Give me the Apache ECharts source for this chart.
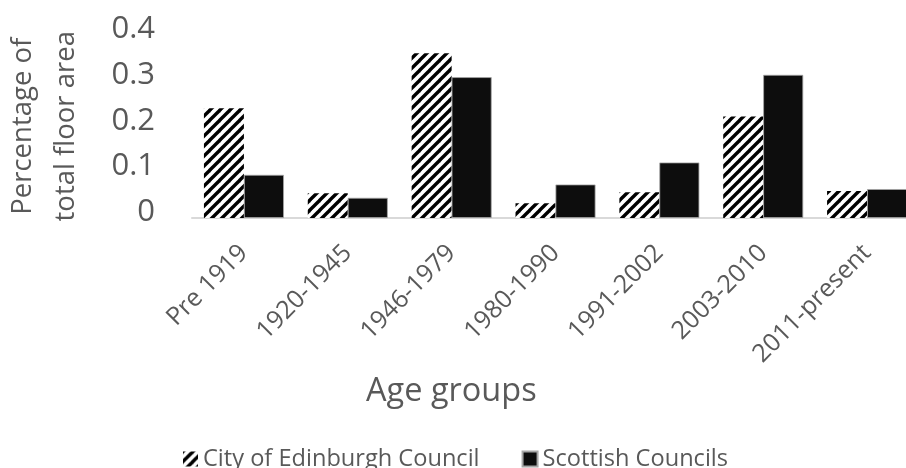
<!DOCTYPE html>
<html>
<head>
<meta charset="utf-8">
<script src="https://cdn.jsdelivr.net/npm/echarts@6/dist/echarts.min.js"></script>
<style>
html,body{margin:0;padding:0;background:#fff;}
#chart{width:906px;height:468px;}
</style>
</head>
<body>
<div id="chart"></div>
<script>
const categories = ['Pre 1919','1920-1945','1946-1979','1980-1990','1991-2002','2003-2010','2011-present'];
const edinburgh = [0.239, 0.054, 0.359, 0.032, 0.056, 0.221, 0.059];
const scottish = [0.094, 0.044, 0.307, 0.073, 0.121, 0.312, 0.063];
const seriesNames = ['City of Edinburgh Council', 'Scottish Councils'];
const yTicks = [0, 0.1, 0.2, 0.3, 0.4];

function hatch() {
  const s = 10;
  const c = document.createElement('canvas');
  c.width = s; c.height = s;
  const g = c.getContext('2d');
  g.fillStyle = '#fff';
  g.fillRect(0, 0, s, s);
  g.strokeStyle = '#000';
  g.lineWidth = 3.4;
  for (let k = -s; k <= s; k += s) {
    g.beginPath();
    g.moveTo(k - 1, s + 1);
    g.lineTo(k + s + 1, -1);
    g.stroke();
  }
  return c;
}

const gray = '#595959';
const font = 'Open Sans';
const chart = echarts.init(document.getElementById('chart'), null, {renderer: 'canvas'});
chart.setOption({
  animation: false,
  backgroundColor: '#fff',
  textStyle: {fontFamily: font},
  title: {
    text: 'Age groups',
    left: 366, top: 375,
    padding: 0,
    textStyle: {fontFamily: font, fontSize: 32.5, fontWeight: 'normal', color: gray}
  },
  legend: {
    left: 183, top: 447, padding: 0,
    itemWidth: 15, itemHeight: 15, itemGap: 42,
    icon: 'rect',
    textStyle: {fontFamily: font, fontSize: 23.6, color: gray},
    data: seriesNames
  },
  grid: {left: 192, right: -13, top: 34.5, bottom: 250, containLabel: false, outerBoundsMode: 'none'},
  xAxis: {
    type: 'category',
    data: categories,
    axisLine: {lineStyle: {color: '#d9d9d9', width: 2}},
    axisTick: {show: false},
    axisLabel: {rotate: 45, margin: 31, fontFamily: font, fontSize: 25, color: gray, interval: 0}
  },
  yAxis: {
    type: 'value',
    min: yTicks[0], max: yTicks[yTicks.length - 1], interval: 0.1,
    name: 'Percentage of\ntotal floor area',
    nameLocation: 'middle',
    nameRotate: 90,
    nameGap: 104,
    nameTextStyle: {fontFamily: font, fontSize: 27.5, color: gray, lineHeight: 43},
    axisLine: {show: false},
    axisTick: {show: false},
    splitLine: {show: false},
    axisLabel: {margin: 37, fontFamily: font, fontSize: 31, color: gray,
      verticalAlign: 'bottom', lineHeight: 11,
      formatter: v => (Math.round(v * 10) / 10).toString()}
  },
  series: [
    {
      name: seriesNames[0], type: 'bar', data: edinburgh,
      barWidth: 40, barGap: '0%',
      itemStyle: {color: {image: hatch(), repeat: 'repeat'}}
    },
    {
      name: seriesNames[1], type: 'bar', data: scottish,
      barWidth: 40, barGap: '0%',
      itemStyle: {color: '#0d0d0d', borderColor: '#a6a6a6', borderWidth: 0.8}
    }
  ]
});
</script>
</body>
</html>
